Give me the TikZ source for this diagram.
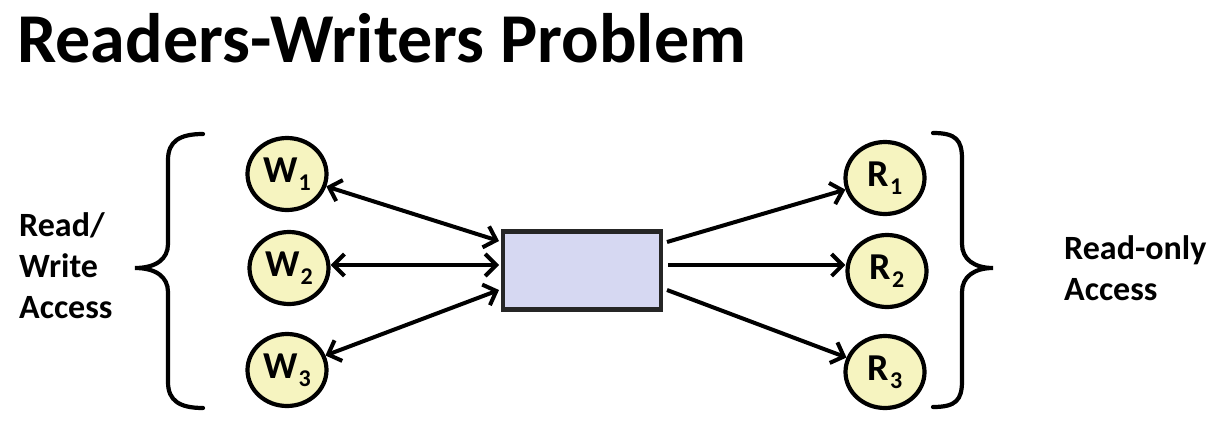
\documentclass[tikz,border=0pt]{standalone}
\usepackage{fontspec}
\setmainfont{Carlito}
\usetikzlibrary{shapes.geometric,arrows.meta}
\newcommand\sublbl[2]{#1\hspace{1pt}\raisebox{-8pt}{\fontsize{24}{24}\selectfont #2}}
\definecolor{cfill}{RGB}{246,244,192}
\definecolor{bfill}{RGB}{214,216,242}
\begin{document}
\begin{tikzpicture}[x=1pt,y=-1pt,
  proc/.style={ellipse,draw=black,line width=4.2pt,fill=cfill,minimum width=79pt,minimum height=72pt,inner sep=0pt,font=\fontsize{38}{38}\selectfont\bfseries},
  buffer/.style={rectangle,draw=black!85,line width=4.2pt,fill=bfill,minimum width=158pt,minimum height=78pt,inner sep=0pt},
  conn/.style={line width=4pt,{Straight Barb[length=11pt,width=22pt,line width=4pt]}-{Straight Barb[length=11pt,width=22pt,line width=4pt]}},
  oneway/.style={line width=4pt,-{Straight Barb[length=11pt,width=22pt,line width=4pt]}},
  brace/.style={line width=4.2pt,line cap=round},
  lbl/.style={font=\fontsize{34}{41}\selectfont\bfseries,align=left,inner sep=0pt}]
\useasboundingbox (0,0) rectangle (1224,431);
\node[anchor=base west,inner sep=0pt,font=\fontsize{70}{70}\selectfont\bfseries] (title) at (17,62) {Readers-Writers Problem};

\node[proc] (w1) at (287,174) {\sublbl{W}{1}};
\node[proc] (w2) at (289,268) {\sublbl{W}{2}};
\node[proc] (w3) at (287,370) {\sublbl{W}{3}};
\node[proc] (r1) at (885,178) {\sublbl{R}{1}};
\node[proc] (r2) at (887,271) {\sublbl{R}{2}};
\node[proc] (r3) at (885,372) {\sublbl{R}{3}};
\node[buffer] (buf) at (582,270.5) {};

\coordinate (bi1) at (499,241);
\coordinate (bi2) at (499,265);
\coordinate (bi3) at (499,290);
\coordinate (bo1) at (667,242);
\coordinate (bo2) at (668,265);
\coordinate (bo3) at (667,290);

\draw[conn] (w1) -- (bi1);
\draw[conn] (w2.east |- bi2) -- (bi2);
\draw[conn] (w3) -- (bi3);
\draw[oneway] (bo1) -- (r1);
\draw[oneway] (bo2) -- (r2.west |- bo2);
\draw[oneway] (bo3) -- (r3);

\draw[brace] (203,134) .. controls (180,134) and (168,141) .. (168,160) -- (168,244)
  .. controls (168,259) and (156,268) .. (135,268)
  .. controls (156,268) and (168,277) .. (168,292) -- (168,382)
  .. controls (168,401) and (180,408) .. (203,408);
\draw[brace] (933,133) .. controls (956,133) and (962,140) .. (962,159) -- (962,244)
  .. controls (962,259) and (974,268) .. (993,268)
  .. controls (974,268) and (962,277) .. (962,292) -- (962,381)
  .. controls (962,400) and (956,407) .. (933,407);

\node[lbl,anchor=base west] (rw) at (19,318) {Read/\\Write\\Access};
\node[lbl,anchor=base west] (ro) at (1064,300) {Read-only\\Access};
\end{tikzpicture}
\end{document}
